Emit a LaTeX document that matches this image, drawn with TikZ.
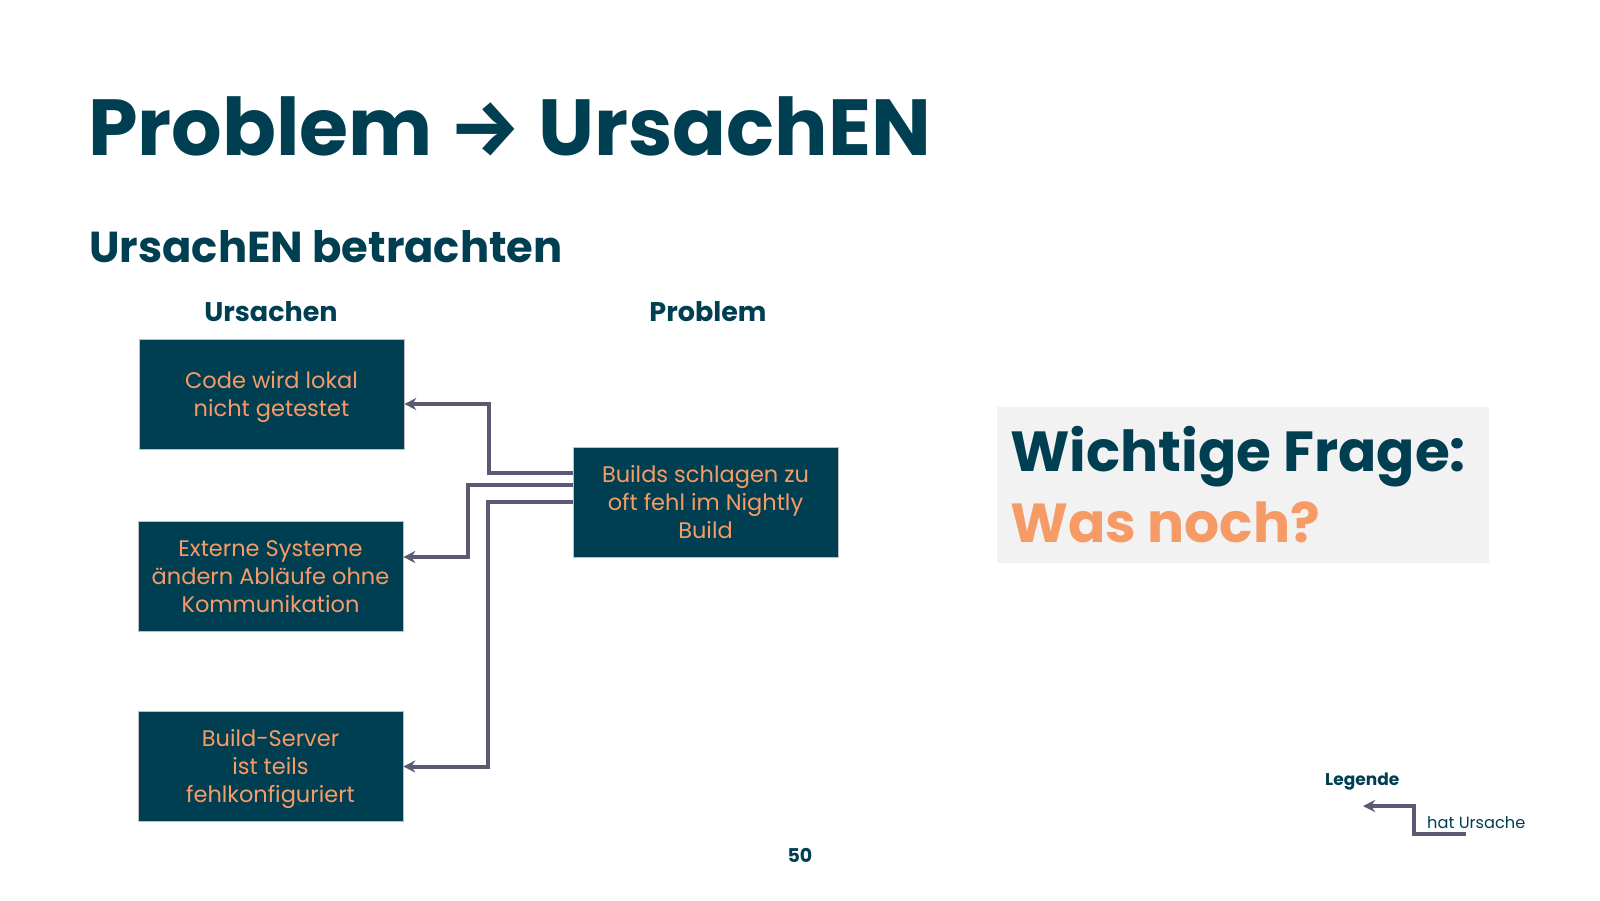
\documentclass[tikz,border=0pt]{standalone}
\usepackage{fontspec}
\usepackage{graphicx}
\setmainfont{Poppins}
\newfontfamily\arrowfont{Fira Sans}
\usetikzlibrary{arrows.meta}
\definecolor{teal}{HTML}{003F52}
\definecolor{orng}{HTML}{F79B66}
\definecolor{conn}{HTML}{5A5A73}
\definecolor{light}{HTML}{F2F2F2}
\newcommand\boxtxt[1]{\raisebox{-2.5pt}[\height][\depth]{\begin{tabular}{@{}c@{}}#1\end{tabular}}}
\tikzset{
  cause/.style={fill=teal, draw=conn!40, line width=0.6pt, minimum width=265pt, minimum height=110pt, inner sep=0pt, align=center, text=orng, font=\fontsize{22.5}{28}\selectfont},
  link/.style={draw=conn, line width=4pt, -{Stealth[length=12pt,width=12pt]}},
  head/.style={text=teal, font=\bfseries\fontsize{27}{30}\selectfont, anchor=base},
}
\begin{document}
\begin{tikzpicture}[x=1pt,y=-1pt]
\useasboundingbox[fill=white] (0,0) rectangle (1600,900);
% titles
\node[anchor=base west, inner sep=0pt, text=teal, font=\bfseries\fontsize{79.5}{90}\selectfont] (title) at (88,155) {Problem {\arrowfont →} UrsachEN};
\node[anchor=base west, inner sep=0pt, text=teal, font=\bfseries\fontsize{43.3}{50}\selectfont] (sub) at (89,262) {UrsachEN betrachten};
\node[head] (hU) at (271,321) {Ursachen};
\node[head] (hP) at (708,321) {Problem};
% boxes
\node[cause] (c1) at (271.5,394) {\boxtxt{Code wird lokal\\nicht getestet}};
\node[cause] (c2) at (270.5,576) {\boxtxt{Externe Systeme\\ändern Abläufe ohne\\Kommunikation}};
\node[cause] (c3) at (270.5,766.5) {\boxtxt{Build-Server\\ist teils\\fehlkonfiguriert}};
\node[cause] (p) at (705.5,502) {\boxtxt{Builds schlagen zu\\oft fehl im Nightly\\Build}};
% connectors
\draw[link] ([yshift=29pt]p.west) -- ++(-84,0) |- ([yshift=-10pt]c1.east);
\draw[link] ([yshift=17pt]p.west) -- ++(-105,0) |- ([yshift=19pt]c2.east);
\draw[link] (p.west) -- ++(-85,0) |- (c3.east);
% question box
\node[fill=light, minimum width=492pt, minimum height=156pt, inner sep=0pt] (q) at (1243,485) {};
\node[anchor=base west, inner sep=0pt, text=teal, font=\bfseries\fontsize{56.5}{64}\selectfont] (q1) at (1010,471) {Wichtige Frage:};
\node[anchor=base west, inner sep=0pt, text=orng, font=\bfseries\fontsize{55}{64}\selectfont] (q2) at (1010,542) {Was noch?};
% legend
\node[anchor=base west, inner sep=0pt, text=teal, font=\bfseries\fontsize{17}{18}\selectfont] (leg) at (1325,785) {Legende};
\coordinate (l0) at (1466,834);
\coordinate (l1) at (1363,806);
\draw[link, line width=3.5pt] (l0) -- (1414,834) |- (l1);
\node[anchor=base west, inner sep=0pt, text=teal, font=\fontsize{16.2}{18}\selectfont] (lt) at (1427,828) {hat Ursache};
% page number
\node[anchor=base, inner sep=0pt, text=teal, font=\bfseries\fontsize{19}{20}\selectfont] (pg) at (800,862) {50};
\end{tikzpicture}
\end{document}
